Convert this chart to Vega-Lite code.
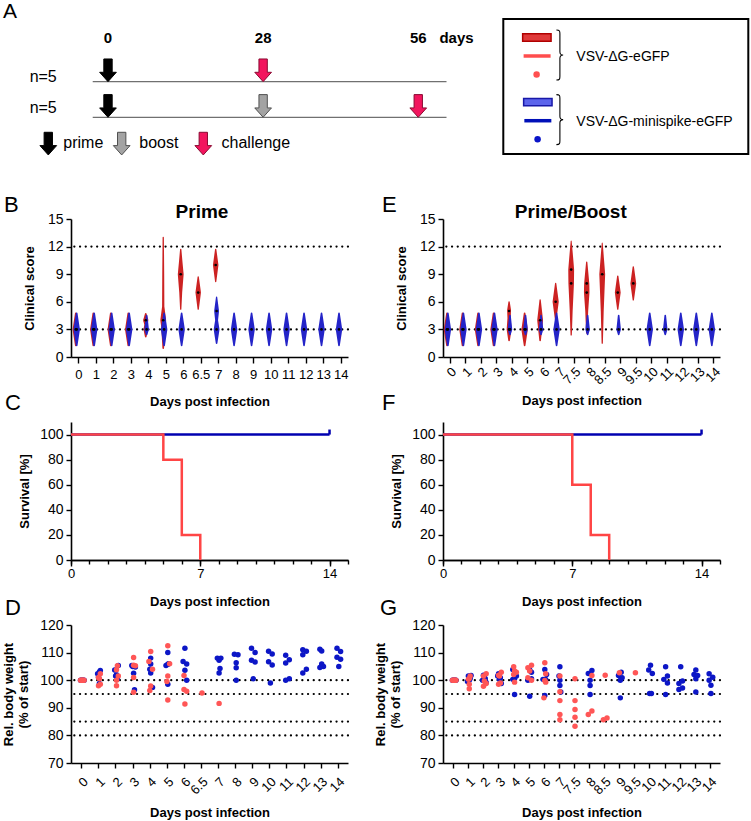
{
"$schema":"https://vega.github.io/schema/vega-lite/v6.json",
"background":"white",
"padding":{"left":2,"top":1,"right":0,"bottom":0},
"autosize":{"type":"pad"},
"config":{
 "font":"Liberation Sans",
 "view":{"stroke":null},
 "axis":{"domainColor":"#000","domainWidth":1.6,"tickColor":"#000","tickWidth":1.4,"tickSize":5,"labelColor":"#000","labelFont":"Liberation Sans","labelFontSize":13,"labelPadding":3,"titleFont":"Liberation Sans","titleFontSize":13,"titleFontWeight":"bold","titleColor":"#000","grid":false,"labelOverlap":false,"labelFlush":false},
 "axisY":{"labelFontSize":14},
 "title":{"font":"Liberation Sans","color":"#000"}
},
"resolve":{"scale":{"color":"independent","size":"independent","fill":"independent","stroke":"independent"}},
"datasets":{
"vB":[
{"d":"0","g":"r","s":1.25,"w":0.25},{"d":"0","g":"r","s":3,"w":1},{"d":"0","g":"r","s":4.75,"w":0.25},
{"d":"1","g":"r","s":1.25,"w":0.25},{"d":"1","g":"r","s":3,"w":1},{"d":"1","g":"r","s":4.75,"w":0.25},
{"d":"2","g":"r","s":1.25,"w":0.25},{"d":"2","g":"r","s":3,"w":1},{"d":"2","g":"r","s":4.75,"w":0.25},
{"d":"3","g":"r","s":1.25,"w":0.25},{"d":"3","g":"r","s":3,"w":1},{"d":"3","g":"r","s":4.75,"w":0.25},
{"d":"4","g":"r","s":2.2,"w":0.25},{"d":"4","g":"r","s":3,"w":0.7},{"d":"4","g":"r","s":3.5,"w":0.45},{"d":"4","g":"r","s":4,"w":0.8},{"d":"4","g":"r","s":4.7,"w":0.25},
{"d":"5","g":"r","s":0.95,"w":0.25},{"d":"5","g":"r","s":3.2,"w":0.6},{"d":"5","g":"r","s":4,"w":0.9},{"d":"5","g":"r","s":5.5,"w":0.35},{"d":"5","g":"r","s":9,"w":0.3},{"d":"5","g":"r","s":13,"w":0.2},
{"d":"6","g":"r","s":5.2,"w":0.2},{"d":"6","g":"r","s":7,"w":0.45},{"d":"6","g":"r","s":9,"w":0.9},{"d":"6","g":"r","s":10.3,"w":0.55},{"d":"6","g":"r","s":11.7,"w":0.2},
{"d":"6.5","g":"r","s":5.2,"w":0.2},{"d":"6.5","g":"r","s":7,"w":0.85},{"d":"6.5","g":"r","s":8.7,"w":0.2},
{"d":"7","g":"r","s":8.2,"w":0.2},{"d":"7","g":"r","s":10,"w":0.85},{"d":"7","g":"r","s":11.7,"w":0.2},
{"d":"0","g":"b","s":1.25,"w":0.25},{"d":"0","g":"b","s":3,"w":1},{"d":"0","g":"b","s":4.75,"w":0.25},
{"d":"1","g":"b","s":1.25,"w":0.25},{"d":"1","g":"b","s":3,"w":1},{"d":"1","g":"b","s":4.75,"w":0.25},
{"d":"2","g":"b","s":1.25,"w":0.25},{"d":"2","g":"b","s":3,"w":1},{"d":"2","g":"b","s":4.75,"w":0.25},
{"d":"3","g":"b","s":1.25,"w":0.25},{"d":"3","g":"b","s":3,"w":1},{"d":"3","g":"b","s":4.75,"w":0.25},
{"d":"4","g":"b","s":2.45,"w":0.25},{"d":"4","g":"b","s":3,"w":0.7},{"d":"4","g":"b","s":4.5,"w":0.25},
{"d":"5","g":"b","s":1.25,"w":0.25},{"d":"5","g":"b","s":3,"w":1},{"d":"5","g":"b","s":4.75,"w":0.25},
{"d":"6","g":"b","s":1.25,"w":0.25},{"d":"6","g":"b","s":3,"w":1},{"d":"6","g":"b","s":4.75,"w":0.25},
{"d":"7","g":"b","s":1.5,"w":0.25},{"d":"7","g":"b","s":3,"w":0.9},{"d":"7","g":"b","s":4,"w":0.45},{"d":"7","g":"b","s":5,"w":0.75},{"d":"7","g":"b","s":6.5,"w":0.2},
{"d":"8","g":"b","s":1.25,"w":0.25},{"d":"8","g":"b","s":3,"w":1},{"d":"8","g":"b","s":4.75,"w":0.25},
{"d":"9","g":"b","s":1.25,"w":0.25},{"d":"9","g":"b","s":3,"w":1},{"d":"9","g":"b","s":4.75,"w":0.25},
{"d":"10","g":"b","s":1.25,"w":0.25},{"d":"10","g":"b","s":3,"w":1},{"d":"10","g":"b","s":4.75,"w":0.25},
{"d":"11","g":"b","s":1.25,"w":0.25},{"d":"11","g":"b","s":3,"w":1},{"d":"11","g":"b","s":4.75,"w":0.25},
{"d":"12","g":"b","s":1.25,"w":0.25},{"d":"12","g":"b","s":3,"w":1},{"d":"12","g":"b","s":4.75,"w":0.25},
{"d":"13","g":"b","s":1.25,"w":0.25},{"d":"13","g":"b","s":3,"w":1},{"d":"13","g":"b","s":4.75,"w":0.25},
{"d":"14","g":"b","s":1.25,"w":0.25},{"d":"14","g":"b","s":3,"w":1},{"d":"14","g":"b","s":4.75,"w":0.25}
],
"mB":[
{"d":"0","g":"r","s":3},{"d":"1","g":"r","s":3},{"d":"2","g":"r","s":3},{"d":"3","g":"r","s":3},{"d":"4","g":"r","s":4},{"d":"5","g":"r","s":4},{"d":"6","g":"r","s":9},{"d":"6.5","g":"r","s":7},{"d":"7","g":"r","s":10},
{"d":"0","g":"b","s":3},{"d":"1","g":"b","s":3},{"d":"2","g":"b","s":3},{"d":"3","g":"b","s":3},{"d":"4","g":"b","s":3},{"d":"5","g":"b","s":3},{"d":"6","g":"b","s":3},{"d":"7","g":"b","s":3},{"d":"7","g":"b","s":5},{"d":"8","g":"b","s":3},{"d":"9","g":"b","s":3},{"d":"10","g":"b","s":3},{"d":"11","g":"b","s":3},{"d":"12","g":"b","s":3},{"d":"13","g":"b","s":3},{"d":"14","g":"b","s":3}
],
"vE":[
{"d":"0","g":"r","s":1.25,"w":0.25},{"d":"0","g":"r","s":3,"w":1},{"d":"0","g":"r","s":4.75,"w":0.25},
{"d":"1","g":"r","s":1.25,"w":0.25},{"d":"1","g":"r","s":3,"w":1},{"d":"1","g":"r","s":4.75,"w":0.25},
{"d":"2","g":"r","s":1.25,"w":0.25},{"d":"2","g":"r","s":3,"w":1},{"d":"2","g":"r","s":4.75,"w":0.25},
{"d":"3","g":"r","s":1.25,"w":0.25},{"d":"3","g":"r","s":3,"w":1},{"d":"3","g":"r","s":4.75,"w":0.25},
{"d":"4","g":"r","s":1.8,"w":0.25},{"d":"4","g":"r","s":3,"w":0.75},{"d":"4","g":"r","s":4.2,"w":0.5},{"d":"4","g":"r","s":5.1,"w":0.6},{"d":"4","g":"r","s":6,"w":0.2},
{"d":"5","g":"r","s":1.25,"w":0.25},{"d":"5","g":"r","s":3,"w":1},{"d":"5","g":"r","s":4.75,"w":0.25},
{"d":"6","g":"r","s":1.8,"w":0.25},{"d":"6","g":"r","s":4,"w":0.9},{"d":"6","g":"r","s":6.2,"w":0.2},
{"d":"7","g":"r","s":4,"w":0.2},{"d":"7","g":"r","s":6,"w":0.95},{"d":"7","g":"r","s":8,"w":0.2},
{"d":"7.5","g":"r","s":2.4,"w":0.2},{"d":"7.5","g":"r","s":5,"w":0.45},{"d":"7.5","g":"r","s":8,"w":0.85},{"d":"7.5","g":"r","s":9.5,"w":0.9},{"d":"7.5","g":"r","s":11,"w":0.55},{"d":"7.5","g":"r","s":12.6,"w":0.15},
{"d":"8","g":"r","s":2.6,"w":0.2},{"d":"8","g":"r","s":5,"w":0.45},{"d":"8","g":"r","s":7,"w":0.85},{"d":"8","g":"r","s":8,"w":0.8},{"d":"8","g":"r","s":10.3,"w":0.2},
{"d":"8.5","g":"r","s":1.5,"w":0.2},{"d":"8.5","g":"r","s":5,"w":0.45},{"d":"8.5","g":"r","s":9,"w":0.9},{"d":"8.5","g":"r","s":10.8,"w":0.5},{"d":"8.5","g":"r","s":12.4,"w":0.15},
{"d":"9","g":"r","s":5.2,"w":0.2},{"d":"9","g":"r","s":7,"w":0.9},{"d":"9","g":"r","s":8.8,"w":0.2},
{"d":"9.5","g":"r","s":6.2,"w":0.2},{"d":"9.5","g":"r","s":8,"w":0.9},{"d":"9.5","g":"r","s":9.8,"w":0.2},
{"d":"0","g":"b","s":1.25,"w":0.25},{"d":"0","g":"b","s":3,"w":1},{"d":"0","g":"b","s":4.75,"w":0.25},
{"d":"1","g":"b","s":1.25,"w":0.25},{"d":"1","g":"b","s":3,"w":1},{"d":"1","g":"b","s":4.75,"w":0.25},
{"d":"2","g":"b","s":1.25,"w":0.25},{"d":"2","g":"b","s":3,"w":1},{"d":"2","g":"b","s":4.75,"w":0.25},
{"d":"3","g":"b","s":1.25,"w":0.25},{"d":"3","g":"b","s":3,"w":1},{"d":"3","g":"b","s":4.75,"w":0.25},
{"d":"4","g":"b","s":2.45,"w":0.25},{"d":"4","g":"b","s":3,"w":0.7},{"d":"4","g":"b","s":4.5,"w":0.25},
{"d":"5","g":"b","s":2.45,"w":0.25},{"d":"5","g":"b","s":3,"w":0.7},{"d":"5","g":"b","s":4.5,"w":0.25},
{"d":"6","g":"b","s":2.45,"w":0.25},{"d":"6","g":"b","s":3,"w":0.7},{"d":"6","g":"b","s":4.5,"w":0.25},
{"d":"7","g":"b","s":1.25,"w":0.25},{"d":"7","g":"b","s":3,"w":1},{"d":"7","g":"b","s":4.75,"w":0.25},
{"d":"8","g":"b","s":2.45,"w":0.25},{"d":"8","g":"b","s":3,"w":0.7},{"d":"8","g":"b","s":4.5,"w":0.25},
{"d":"9","g":"b","s":2.45,"w":0.25},{"d":"9","g":"b","s":3,"w":0.7},{"d":"9","g":"b","s":4.5,"w":0.25},
{"d":"10","g":"b","s":1.25,"w":0.25},{"d":"10","g":"b","s":3,"w":1},{"d":"10","g":"b","s":4.75,"w":0.25},
{"d":"11","g":"b","s":2.45,"w":0.25},{"d":"11","g":"b","s":3,"w":0.7},{"d":"11","g":"b","s":4.5,"w":0.25},
{"d":"12","g":"b","s":1.25,"w":0.25},{"d":"12","g":"b","s":3,"w":1},{"d":"12","g":"b","s":4.75,"w":0.25},
{"d":"13","g":"b","s":1.25,"w":0.25},{"d":"13","g":"b","s":3,"w":1},{"d":"13","g":"b","s":4.75,"w":0.25},
{"d":"14","g":"b","s":1.25,"w":0.25},{"d":"14","g":"b","s":3,"w":1},{"d":"14","g":"b","s":4.75,"w":0.25}
],
"mE":[
{"d":"0","g":"r","s":3},{"d":"1","g":"r","s":3},{"d":"2","g":"r","s":3},{"d":"3","g":"r","s":3},{"d":"4","g":"r","s":3},{"d":"4","g":"r","s":5},{"d":"5","g":"r","s":3},{"d":"6","g":"r","s":4},{"d":"7","g":"r","s":6},{"d":"7.5","g":"r","s":8},{"d":"7.5","g":"r","s":9.5},{"d":"8","g":"r","s":7},{"d":"8","g":"r","s":8},{"d":"8.5","g":"r","s":9},{"d":"9","g":"r","s":7},{"d":"9.5","g":"r","s":8},
{"d":"0","g":"b","s":3},{"d":"1","g":"b","s":3},{"d":"2","g":"b","s":3},{"d":"3","g":"b","s":3},{"d":"4","g":"b","s":3},{"d":"5","g":"b","s":3},{"d":"6","g":"b","s":3},{"d":"7","g":"b","s":3},{"d":"8","g":"b","s":3},{"d":"9","g":"b","s":3},{"d":"10","g":"b","s":3},{"d":"11","g":"b","s":3},{"d":"12","g":"b","s":3},{"d":"13","g":"b","s":3},{"d":"14","g":"b","s":3}
],
"sC":[{"g":"b","t":0,"s":100},{"g":"b","t":14,"s":100},{"g":"r","t":0,"s":100},{"g":"r","t":5,"s":80},{"g":"r","t":6,"s":20},{"g":"r","t":7,"s":0}],
"sF":[{"g":"b","t":0,"s":100},{"g":"b","t":14,"s":100},{"g":"r","t":0,"s":100},{"g":"r","t":7,"s":60},{"g":"r","t":8,"s":20},{"g":"r","t":9,"s":0}],
"dD":[
{"d":"0","g":"b","v":100,"k":1},{"d":"0","g":"b","v":100,"k":2},{"d":"0","g":"b","v":100,"k":3},{"d":"0","g":"b","v":100,"k":4},{"d":"0","g":"b","v":100,"k":5},
{"d":"1","g":"b","v":103,"k":3},{"d":"1","g":"b","v":103.5,"k":4},{"d":"1","g":"b","v":101.2,"k":2},{"d":"1","g":"b","v":98.8,"k":3},{"d":"1","g":"b","v":102.3,"k":1},
{"d":"2","g":"b","v":103.7,"k":1},{"d":"2","g":"b","v":102,"k":3},{"d":"2","g":"b","v":100.5,"k":4},{"d":"2","g":"b","v":105.3,"k":5},{"d":"2","g":"b","v":101.5,"k":2},
{"d":"3","g":"b","v":105.3,"k":1},{"d":"3","g":"b","v":102.5,"k":3},{"d":"3","g":"b","v":96.5,"k":4},{"d":"3","g":"b","v":104.8,"k":5},{"d":"3","g":"b","v":105,"k":2},
{"d":"4","g":"b","v":104,"k":2},{"d":"4","g":"b","v":108,"k":3},{"d":"4","g":"b","v":105.9,"k":3},{"d":"4","g":"b","v":102.6,"k":3},{"d":"4","g":"b","v":97.4,"k":5},
{"d":"5","g":"b","v":105.3,"k":1},{"d":"5","g":"b","v":110,"k":3},{"d":"5","g":"b","v":105.8,"k":3},{"d":"5","g":"b","v":98.5,"k":3},{"d":"5","g":"b","v":106,"k":4},
{"d":"6","g":"b","v":111.6,"k":3},{"d":"6","g":"b","v":106.8,"k":1},{"d":"6","g":"b","v":103.6,"k":3},{"d":"6","g":"b","v":105.9,"k":5},{"d":"6","g":"b","v":100,"k":5},
{"d":"7","g":"b","v":108,"k":1},{"d":"7","g":"b","v":107.2,"k":3},{"d":"7","g":"b","v":108,"k":5},{"d":"7","g":"b","v":102.6,"k":3},{"d":"7","g":"b","v":104.2,"k":4},
{"d":"8","g":"b","v":109.4,"k":1},{"d":"8","g":"b","v":106.3,"k":3},{"d":"8","g":"b","v":104.5,"k":3},{"d":"8","g":"b","v":109.2,"k":5},{"d":"8","g":"b","v":100,"k":3},
{"d":"9","g":"b","v":111.6,"k":1},{"d":"9","g":"b","v":107.2,"k":1},{"d":"9","g":"b","v":110,"k":5},{"d":"9","g":"b","v":106.6,"k":5},{"d":"9","g":"b","v":100.5,"k":3},
{"d":"10","g":"b","v":110.5,"k":1},{"d":"10","g":"b","v":106.7,"k":1},{"d":"10","g":"b","v":109.5,"k":5},{"d":"10","g":"b","v":105.5,"k":5},{"d":"10","g":"b","v":99,"k":3},
{"d":"11","g":"b","v":109,"k":1},{"d":"11","g":"b","v":106.2,"k":1},{"d":"11","g":"b","v":107.4,"k":5},{"d":"11","g":"b","v":100.5,"k":5},{"d":"11","g":"b","v":100,"k":1},
{"d":"12","g":"b","v":111,"k":1},{"d":"12","g":"b","v":109.2,"k":1},{"d":"12","g":"b","v":110.5,"k":5},{"d":"12","g":"b","v":104,"k":5},{"d":"12","g":"b","v":102.6,"k":1},
{"d":"13","g":"b","v":111.2,"k":1},{"d":"13","g":"b","v":110.6,"k":3},{"d":"13","g":"b","v":105.9,"k":3},{"d":"13","g":"b","v":105,"k":5},{"d":"13","g":"b","v":104.6,"k":1},
{"d":"14","g":"b","v":111.6,"k":1},{"d":"14","g":"b","v":108.3,"k":1},{"d":"14","g":"b","v":110.4,"k":5},{"d":"14","g":"b","v":107.6,"k":5},{"d":"14","g":"b","v":105,"k":3},
{"d":"0","g":"r","v":100,"k":1},{"d":"0","g":"r","v":100,"k":2},{"d":"0","g":"r","v":100,"k":3},{"d":"0","g":"r","v":100,"k":4},{"d":"0","g":"r","v":100,"k":5},
{"d":"1","g":"r","v":101,"k":2},{"d":"1","g":"r","v":98,"k":2},{"d":"1","g":"r","v":102.3,"k":4},{"d":"1","g":"r","v":98.5,"k":4},{"d":"1","g":"r","v":100.5,"k":3},
{"d":"2","g":"r","v":98,"k":3},{"d":"2","g":"r","v":100,"k":3},{"d":"2","g":"r","v":103.8,"k":3},{"d":"2","g":"r","v":105.2,"k":4},{"d":"2","g":"r","v":101.5,"k":5},
{"d":"3","g":"r","v":108.2,"k":3},{"d":"3","g":"r","v":105.4,"k":3},{"d":"3","g":"r","v":101,"k":3},{"d":"3","g":"r","v":95.6,"k":3},{"d":"3","g":"r","v":105.2,"k":5},
{"d":"4","g":"r","v":110.4,"k":3},{"d":"4","g":"r","v":106.8,"k":1},{"d":"4","g":"r","v":96.3,"k":2},{"d":"4","g":"r","v":97.9,"k":3},{"d":"4","g":"r","v":104,"k":5},
{"d":"5","g":"r","v":112.5,"k":3},{"d":"5","g":"r","v":106,"k":5},{"d":"5","g":"r","v":101.5,"k":3},{"d":"5","g":"r","v":99.5,"k":2},{"d":"5","g":"r","v":92.8,"k":3},
{"d":"6","g":"r","v":101.7,"k":2},{"d":"6","g":"r","v":96.6,"k":2},{"d":"6","g":"r","v":91.4,"k":3},{"d":"6","g":"r","v":96,"k":5},
{"d":"6.5","g":"r","v":95.4,"k":3},
{"d":"7","g":"r","v":91.6,"k":3}
],
"dG":[
{"d":"0","g":"b","v":100,"k":1},{"d":"0","g":"b","v":100,"k":2},{"d":"0","g":"b","v":100,"k":3},{"d":"0","g":"b","v":100,"k":4},{"d":"0","g":"b","v":100,"k":5},
{"d":"1","g":"b","v":101.5,"k":2},{"d":"1","g":"b","v":101.7,"k":5},{"d":"1","g":"b","v":100,"k":3},{"d":"1","g":"b","v":100.6,"k":4},{"d":"1","g":"b","v":99.5,"k":1},
{"d":"2","g":"b","v":101.8,"k":2},{"d":"2","g":"b","v":101.1,"k":3},{"d":"2","g":"b","v":99.2,"k":5},{"d":"2","g":"b","v":100,"k":1},{"d":"2","g":"b","v":100.5,"k":4},
{"d":"3","g":"b","v":102.3,"k":2},{"d":"3","g":"b","v":100.9,"k":4},{"d":"3","g":"b","v":98.8,"k":5},{"d":"3","g":"b","v":101.5,"k":1},{"d":"3","g":"b","v":100.3,"k":3},
{"d":"4","g":"b","v":103.9,"k":1},{"d":"4","g":"b","v":100.6,"k":3},{"d":"4","g":"b","v":101.5,"k":5},{"d":"4","g":"b","v":94.8,"k":3},{"d":"4","g":"b","v":100.3,"k":1},
{"d":"5","g":"b","v":103.7,"k":3},{"d":"5","g":"b","v":102.9,"k":5},{"d":"5","g":"b","v":94.2,"k":3},{"d":"5","g":"b","v":100,"k":1},{"d":"5","g":"b","v":100.5,"k":5},
{"d":"6","g":"b","v":103.9,"k":3},{"d":"6","g":"b","v":100.3,"k":1},{"d":"6","g":"b","v":102.1,"k":5},{"d":"6","g":"b","v":94.5,"k":3},{"d":"6","g":"b","v":100.3,"k":4},
{"d":"7","g":"b","v":104.9,"k":3},{"d":"7","g":"b","v":101.5,"k":2},{"d":"7","g":"b","v":100,"k":3},{"d":"7","g":"b","v":98.1,"k":3},{"d":"7","g":"b","v":95.7,"k":4},
{"d":"8","g":"b","v":102.4,"k":1},{"d":"8","g":"b","v":103.5,"k":5},{"d":"8","g":"b","v":100,"k":3},{"d":"8","g":"b","v":98.1,"k":3},{"d":"8","g":"b","v":94.8,"k":3},
{"d":"9","g":"b","v":101.7,"k":1},{"d":"9","g":"b","v":102.9,"k":4},{"d":"9","g":"b","v":100.9,"k":5},{"d":"9","g":"b","v":100,"k":3},{"d":"9","g":"b","v":93.6,"k":3},
{"d":"10","g":"b","v":103.7,"k":1},{"d":"10","g":"b","v":105.4,"k":3},{"d":"10","g":"b","v":102.4,"k":5},{"d":"10","g":"b","v":95.2,"k":2},{"d":"10","g":"b","v":95.2,"k":4},
{"d":"11","g":"b","v":104.9,"k":3},{"d":"11","g":"b","v":100.3,"k":1},{"d":"11","g":"b","v":101.5,"k":5},{"d":"11","g":"b","v":99,"k":5},{"d":"11","g":"b","v":94.8,"k":3},
{"d":"12","g":"b","v":104.9,"k":3},{"d":"12","g":"b","v":98.8,"k":1},{"d":"12","g":"b","v":99.7,"k":5},{"d":"12","g":"b","v":96.6,"k":1},{"d":"12","g":"b","v":97.2,"k":5},
{"d":"13","g":"b","v":102.1,"k":1},{"d":"13","g":"b","v":103.7,"k":3},{"d":"13","g":"b","v":101.7,"k":5},{"d":"13","g":"b","v":100.5,"k":3},{"d":"13","g":"b","v":95.7,"k":3},
{"d":"14","g":"b","v":102.3,"k":1},{"d":"14","g":"b","v":101.1,"k":5},{"d":"14","g":"b","v":100,"k":1},{"d":"14","g":"b","v":98.2,"k":3},{"d":"14","g":"b","v":95.2,"k":3},
{"d":"0","g":"r","v":100,"k":1},{"d":"0","g":"r","v":100,"k":2},{"d":"0","g":"r","v":100,"k":3},{"d":"0","g":"r","v":100,"k":4},{"d":"0","g":"r","v":100,"k":5},
{"d":"1","g":"r","v":100.6,"k":3},{"d":"1","g":"r","v":96.9,"k":3},{"d":"1","g":"r","v":98.5,"k":3},{"d":"1","g":"r","v":101.5,"k":4},{"d":"1","g":"r","v":100.3,"k":2},
{"d":"2","g":"r","v":97.8,"k":2},{"d":"2","g":"r","v":99.7,"k":3},{"d":"2","g":"r","v":98.8,"k":5},{"d":"2","g":"r","v":102.3,"k":5},{"d":"2","g":"r","v":101.5,"k":2},
{"d":"3","g":"r","v":98.5,"k":2},{"d":"3","g":"r","v":101.5,"k":3},{"d":"3","g":"r","v":102.9,"k":5},{"d":"3","g":"r","v":101.8,"k":2},{"d":"3","g":"r","v":99,"k":4},
{"d":"4","g":"r","v":104.9,"k":2},{"d":"4","g":"r","v":103.3,"k":3},{"d":"4","g":"r","v":102.9,"k":5},{"d":"4","g":"r","v":102.1,"k":2},{"d":"4","g":"r","v":99.3,"k":3},
{"d":"5","g":"r","v":104.5,"k":1},{"d":"5","g":"r","v":105.4,"k":5},{"d":"5","g":"r","v":103.3,"k":3},{"d":"5","g":"r","v":100.9,"k":1},{"d":"5","g":"r","v":100,"k":5},
{"d":"6","g":"r","v":106.3,"k":3},{"d":"6","g":"r","v":102.3,"k":4},{"d":"6","g":"r","v":99.9,"k":3},{"d":"6","g":"r","v":99.3,"k":4},{"d":"6","g":"r","v":93.6,"k":2},
{"d":"7","g":"r","v":101.5,"k":3},{"d":"7","g":"r","v":95.8,"k":3},{"d":"7","g":"r","v":92.6,"k":3},{"d":"7","g":"r","v":87.6,"k":3},{"d":"7","g":"r","v":85.7,"k":3},
{"d":"7.5","g":"r","v":100.5,"k":3},{"d":"7.5","g":"r","v":92.6,"k":3},{"d":"7.5","g":"r","v":89.4,"k":3},{"d":"7.5","g":"r","v":86.6,"k":3},{"d":"7.5","g":"r","v":83.3,"k":3},
{"d":"8","g":"r","v":87.6,"k":1},{"d":"8","g":"r","v":88.8,"k":5},{"d":"8","g":"r","v":101.7,"k":5},
{"d":"8.5","g":"r","v":85.7,"k":1},{"d":"8.5","g":"r","v":86.3,"k":5},{"d":"8.5","g":"r","v":101.8,"k":3},
{"d":"9","g":"r","v":102.7,"k":2},
{"d":"9.5","g":"r","v":102.7,"k":3}
]
},
"columns":2,
"spacing":{"row":65,"column":95},
"bounds":"flush",
"concat":[
 {"width":277,"height":135,
  "title":{"text":"A","anchor":"start","frame":"group","dx":-68,"offset":-20,"fontSize":21,"fontWeight":"normal","baseline":"alphabetic"},
  "layer":[
   {"data":{"values":[{"lane":4.64,"a":-2.76,"b":61.1},{"lane":7.28,"a":-2.76,"b":61.1}]},
    "mark":{"type":"rule","color":"#707070","strokeWidth":1.3},
    "encoding":{"x":{"field":"a","type":"quantitative","scale":{"domain":[-6.68,43.32],"nice":false,"zero":false},"axis":null},"x2":{"field":"b"},"y":{"field":"lane","type":"quantitative","scale":{"domain":[0,10],"reverse":true,"nice":false,"zero":false},"axis":null}}},
   {"data":{"values":[{"day":0,"lane":4.64,"kind":"prime"},{"day":28,"lane":4.64,"kind":"challenge"},{"day":0,"lane":7.28,"kind":"prime"},{"day":28,"lane":7.28,"kind":"boost"},{"day":56,"lane":7.28,"kind":"challenge"},{"day":-10.78,"lane":10.07,"kind":"prime"},{"day":2.47,"lane":10.07,"kind":"boost"},{"day":17.2,"lane":10.07,"kind":"challenge"}]},
    "mark":{"type":"point","shape":"M-0.38,-2.06L0.38,-2.06L0.38,-0.85L0.76,-0.85L0,0L-0.76,-0.85L-0.38,-0.85Z","size":484,"filled":true,"opacity":1,"strokeWidth":1},
    "encoding":{"x":{"field":"day","type":"quantitative","scale":{"domain":[-6.68,43.32],"nice":false,"zero":false},"axis":null},"y":{"field":"lane","type":"quantitative","scale":{"domain":[0,10],"reverse":true,"nice":false,"zero":false},"axis":null},
     "fill":{"field":"kind","type":"nominal","scale":{"domain":["prime","boost","challenge"],"range":["#000000","#a3a3a3","#f2155e"]},"legend":null},
     "stroke":{"field":"kind","type":"nominal","scale":{"domain":["prime","boost","challenge"],"range":["#000000","#505050","#8a0a32"]},"legend":null}}},
   {"data":{"values":[{"day":0,"lane":1.43,"t":"0"},{"day":28,"lane":1.43,"t":"28"},{"day":56,"lane":1.43,"t":"56"},{"day":62.9,"lane":1.43,"t":"days"}]},
    "mark":{"type":"text","fontSize":15,"fontWeight":"bold","align":"center","baseline":"middle","color":"#000"},
    "encoding":{"x":{"field":"day","type":"quantitative","scale":{"domain":[-6.68,43.32],"nice":false,"zero":false},"axis":null},"y":{"field":"lane","type":"quantitative","scale":{"domain":[0,10],"reverse":true,"nice":false,"zero":false},"axis":null},"text":{"field":"t"}}},
   {"data":{"values":[{"day":-11.7,"lane":4.27,"t":"n=5"},{"day":-11.7,"lane":6.61,"t":"n=5"}]},
    "mark":{"type":"text","fontSize":16,"align":"center","baseline":"middle","color":"#000"},
    "encoding":{"x":{"field":"day","type":"quantitative","scale":{"domain":[-6.68,43.32],"nice":false,"zero":false},"axis":null},"y":{"field":"lane","type":"quantitative","scale":{"domain":[0,10],"reverse":true,"nice":false,"zero":false},"axis":null},"text":{"field":"t"}}},
   {"data":{"values":[{"day":-8.07,"lane":9.58,"t":"prime"},{"day":5.65,"lane":9.58,"t":"boost"},{"day":20.5,"lane":9.58,"t":"challenge"}]},
    "mark":{"type":"text","fontSize":16,"align":"left","baseline":"alphabetic","color":"#000"},
    "encoding":{"x":{"field":"day","type":"quantitative","scale":{"domain":[-6.68,43.32],"nice":false,"zero":false},"axis":null},"y":{"field":"lane","type":"quantitative","scale":{"domain":[0,10],"reverse":true,"nice":false,"zero":false},"axis":null},"text":{"field":"t"}}}
  ]},
 {"width":305.3,"height":135,
  "layer":[
   {"data":{"values":[{"c":0,"c2":10,"r":0,"r2":7.3}]},"mark":{"type":"rect","fill":null,"fillOpacity":0,"stroke":"#000","strokeWidth":2},
    "encoding":{"x":{"field":"c","type":"quantitative","scale":{"domain":[-2.461,10],"nice":false,"zero":false},"axis":null},"x2":{"field":"c2"},"y":{"field":"r","type":"quantitative","scale":{"domain":[0,7.3],"reverse":true,"nice":false,"zero":false},"axis":null},"y2":{"field":"r2"}}},
   {"data":{"values":[{"c":1.37,"r":1}]},"mark":{"type":"point","shape":"M-1,-0.257H1V0.257H-1Z","size":807,"filled":true,"opacity":1,"fill":"#e03a3a","stroke":"#b00000","strokeWidth":1.5},
    "encoding":{"x":{"field":"c","type":"quantitative","scale":{"domain":[-2.461,10],"nice":false,"zero":false},"axis":null},"y":{"field":"r","type":"quantitative","scale":{"domain":[0,7.3],"reverse":true,"nice":false,"zero":false},"axis":null}}},
   {"data":{"values":[{"c":1.41,"r":4.5}]},"mark":{"type":"point","shape":"M-1,-0.257H1V0.257H-1Z","size":807,"filled":true,"opacity":1,"fill":"#5c64ec","stroke":"#1818a8","strokeWidth":1.5},
    "encoding":{"x":{"field":"c","type":"quantitative","scale":{"domain":[-2.461,10],"nice":false,"zero":false},"axis":null},"y":{"field":"r","type":"quantitative","scale":{"domain":[0,7.3],"reverse":true,"nice":false,"zero":false},"axis":null}}},
   {"data":{"values":[{"c":1.38,"r":2}]},"mark":{"type":"point","shape":"M-1,0H1","size":729,"filled":false,"opacity":1,"stroke":"#ff4d4d","strokeWidth":3.5},
    "encoding":{"x":{"field":"c","type":"quantitative","scale":{"domain":[-2.461,10],"nice":false,"zero":false},"axis":null},"y":{"field":"r","type":"quantitative","scale":{"domain":[0,7.3],"reverse":true,"nice":false,"zero":false},"axis":null}}},
   {"data":{"values":[{"c":1.41,"r":5.5}]},"mark":{"type":"point","shape":"M-1,0H1","size":729,"filled":false,"opacity":1,"stroke":"#0010b8","strokeWidth":3.5},
    "encoding":{"x":{"field":"c","type":"quantitative","scale":{"domain":[-2.461,10],"nice":false,"zero":false},"axis":null},"y":{"field":"r","type":"quantitative","scale":{"domain":[0,7.3],"reverse":true,"nice":false,"zero":false},"axis":null}}},
   {"data":{"values":[{"c":1.36,"r":3}]},"mark":{"type":"circle","size":42,"opacity":1,"color":"#ff5050"},
    "encoding":{"x":{"field":"c","type":"quantitative","scale":{"domain":[-2.461,10],"nice":false,"zero":false},"axis":null},"y":{"field":"r","type":"quantitative","scale":{"domain":[0,7.3],"reverse":true,"nice":false,"zero":false},"axis":null}}},
   {"data":{"values":[{"c":1.4,"r":6.5}]},"mark":{"type":"circle","size":42,"opacity":1,"color":"#0a14c8"},
    "encoding":{"x":{"field":"c","type":"quantitative","scale":{"domain":[-2.461,10],"nice":false,"zero":false},"axis":null},"y":{"field":"r","type":"quantitative","scale":{"domain":[0,7.3],"reverse":true,"nice":false,"zero":false},"axis":null}}},
   {"data":{"values":[{"c":2.29,"r":1.95},{"c":2.29,"r":5.44}]},"mark":{"type":"point","shape":"M-0.12,-1C0.02,-1 0.02,-0.95 0.02,-0.85L0.02,-0.13C0.02,-0.04 0.06,0 0.15,0C0.06,0 0.02,0.04 0.02,0.13L0.02,0.85C0.02,0.95 0.02,1 -0.12,1","size":2500,"filled":false,"opacity":1,"stroke":"#000","strokeWidth":1.1},
    "encoding":{"x":{"field":"c","type":"quantitative","scale":{"domain":[-2.461,10],"nice":false,"zero":false},"axis":null},"y":{"field":"r","type":"quantitative","scale":{"domain":[0,7.3],"reverse":true,"nice":false,"zero":false},"axis":null}}},
   {"data":{"values":[{"c":2.98,"r":2.07,"t":"VSV-ΔG-eGFP"},{"c":2.98,"r":5.55,"t":"VSV-ΔG-minispike-eGFP"}]},"mark":{"type":"text","fontSize":14,"align":"left","baseline":"middle","color":"#000"},
    "encoding":{"x":{"field":"c","type":"quantitative","scale":{"domain":[-2.461,10],"nice":false,"zero":false},"axis":null},"y":{"field":"r","type":"quantitative","scale":{"domain":[0,7.3],"reverse":true,"nice":false,"zero":false},"axis":null},"text":{"field":"t"}}}
  ]},
 {"width":277,"height":138,
  "title":{"text":"B","anchor":"start","frame":"group","dx":-67,"offset":-31,"fontSize":22,"fontWeight":"normal","baseline":"alphabetic"},
  "resolve":{"axis":{"x":"independent"}},
  "layer":[
   {"data":{"values":[{"y":3},{"y":12}]},"mark":{"type":"rule","strokeDash":[0.1,5.6],"strokeWidth":2.2,"strokeCap":"round","color":"#000"},
    "encoding":{"y":{"field":"y","type":"quantitative","scale":{"domain":[0,15],"nice":false,"zero":false},"axis":{"values":[0,3,6,9,12,15],"title":"Clinical score","titlePadding":11}}}},
   {"data":{"name":"vB"},"mark":{"type":"trail"},
    "encoding":{
     "x":{"field":"d","type":"ordinal","scale":{"type":"point","domain":["0","1","2","3","4","5","6","6.5","7","8","9","10","11","12","13","14"],"padding":0.42},"axis":{"orient":"bottom","title":"Days post infection","labelAngle":0,"tickSize":6,"labelPadding":5,"titlePadding":14}},
     "xOffset":{"field":"g","type":"nominal","scale":{"type":"point","domain":["r","b"],"range":[-3,3.3]}},
     "y":{"field":"s","type":"quantitative","scale":{"domain":[0,15],"nice":false,"zero":false},"axis":{"values":[0,3,6,9,12,15],"title":"Clinical score","titlePadding":11}},
     "size":{"field":"w","type":"quantitative","scale":{"domain":[0,1],"range":[0,6.5]},"legend":null},
     "color":{"field":"g","type":"nominal","scale":{"domain":["r","b"],"range":["#cc2222","#2424c8"]},"legend":null},
     "detail":{"field":"d"},
     "order":{"field":"s","type":"quantitative"}}},
   {"data":{"name":"mB"},"mark":{"type":"point","shape":"circle","filled":true,"size":7,"color":"#000","opacity":1},
    "encoding":{
     "x":{"field":"d","type":"ordinal","scale":{"type":"point","domain":["0","1","2","3","4","5","6","6.5","7","8","9","10","11","12","13","14"],"padding":0.42},"axis":{"orient":"top","domain":false,"ticks":false,"labels":false,"title":"Prime","titleFontSize":19,"titleX":130.5,"titleY":-1.5,"titleBaseline":"alphabetic","titleAlign":"center"}},
     "xOffset":{"field":"g","type":"nominal","scale":{"type":"point","domain":["r","b"],"range":[-3,3.3]}},
     "y":{"field":"s","type":"quantitative","scale":{"domain":[0,15],"nice":false,"zero":false},"axis":{"values":[0,3,6,9,12,15],"title":"Clinical score","titlePadding":11}}}}
  ]},
 {"width":277,"height":138,
  "title":{"text":"E","anchor":"start","frame":"group","dx":-61,"offset":-31,"fontSize":22,"fontWeight":"normal","baseline":"alphabetic"},
  "resolve":{"axis":{"x":"independent"}},
  "layer":[
   {"data":{"values":[{"y":3},{"y":12}]},"mark":{"type":"rule","strokeDash":[0.1,5.6],"strokeWidth":2.2,"strokeCap":"round","color":"#000"},
    "encoding":{"y":{"field":"y","type":"quantitative","scale":{"domain":[0,15],"nice":false,"zero":false},"axis":{"values":[0,3,6,9,12,15],"title":"Clinical score","titlePadding":11}}}},
   {"data":{"name":"vE"},"mark":{"type":"trail"},
    "encoding":{
     "x":{"field":"d","type":"ordinal","scale":{"type":"point","domain":["0","1","2","3","4","5","6","7","7.5","8","8.5","9","9.5","10","11","12","13","14"],"padding":0.42},"axis":{"orient":"bottom","title":"Days post infection","labelAngle":-45,"tickSize":6,"labelPadding":2,"titlePadding":8}},
     "xOffset":{"field":"g","type":"nominal","scale":{"type":"point","domain":["r","b"],"range":[-3,3.3]}},
     "y":{"field":"s","type":"quantitative","scale":{"domain":[0,15],"nice":false,"zero":false},"axis":{"values":[0,3,6,9,12,15],"title":"Clinical score","titlePadding":11}},
     "size":{"field":"w","type":"quantitative","scale":{"domain":[0,1],"range":[0,6.5]},"legend":null},
     "color":{"field":"g","type":"nominal","scale":{"domain":["r","b"],"range":["#cc2222","#2424c8"]},"legend":null},
     "detail":{"field":"d"},
     "order":{"field":"s","type":"quantitative"}}},
   {"data":{"name":"mE"},"mark":{"type":"point","shape":"circle","filled":true,"size":7,"color":"#000","opacity":1},
    "encoding":{
     "x":{"field":"d","type":"ordinal","scale":{"type":"point","domain":["0","1","2","3","4","5","6","7","7.5","8","8.5","9","9.5","10","11","12","13","14"],"padding":0.42},"axis":{"orient":"top","domain":false,"ticks":false,"labels":false,"title":"Prime/Boost","titleFontSize":19,"titleX":127.3,"titleY":-1.5,"titleBaseline":"alphabetic","titleAlign":"center"}},
     "xOffset":{"field":"g","type":"nominal","scale":{"type":"point","domain":["r","b"],"range":[-3,3.3]}},
     "y":{"field":"s","type":"quantitative","scale":{"domain":[0,15],"nice":false,"zero":false},"axis":{"values":[0,3,6,9,12,15],"title":"Clinical score","titlePadding":11}}}}
  ]},
 {"width":277,"height":138,
  "title":{"text":"C","anchor":"start","frame":"group","dx":-66,"offset":-10,"fontSize":22,"fontWeight":"normal","baseline":"alphabetic"},
  "resolve":{"axis":{"x":"independent"}},
  "layer":[
   {"data":{"name":"sC"},"transform":[{"filter":"datum.g == 'b'"}],"mark":{"type":"line","interpolate":"step-after","color":"#0000b0","strokeWidth":2.5},
    "encoding":{"x":{"field":"t","type":"quantitative","scale":{"domain":[0,15],"nice":false,"zero":false},"axis":{"orient":"bottom","values":[0,1,2,3,4,5,6,7,8,9,10,11,12,13,14,15],"labels":false,"tickSize":4,"title":null}},
     "y":{"field":"s","type":"quantitative","scale":{"domain":[0,110],"nice":false,"zero":false},"axis":{"values":[0,20,40,60,80,100],"title":"Survival [%]","titlePadding":8}}}},
   {"data":{"values":[{"t":14,"s":100,"s2":104}]},"mark":{"type":"rule","color":"#0000b0","strokeWidth":2.5},
    "encoding":{"x":{"field":"t","type":"quantitative","scale":{"domain":[0,15],"nice":false,"zero":false},"axis":null},"y":{"field":"s","type":"quantitative","scale":{"domain":[0,110],"nice":false,"zero":false},"axis":{"values":[0,20,40,60,80,100],"title":"Survival [%]","titlePadding":8}},"y2":{"field":"s2"}}},
   {"data":{"name":"sC"},"transform":[{"filter":"datum.g == 'r'"}],"mark":{"type":"line","interpolate":"step-after","color":"#ff4545","strokeWidth":2.5},
    "encoding":{"x":{"field":"t","type":"quantitative","scale":{"domain":[0,15],"nice":false,"zero":false},"axis":{"orient":"bottom","values":[0,7,14],"tickSize":6,"labelPadding":1,"title":"Days post infection","titlePadding":15}},
     "y":{"field":"s","type":"quantitative","scale":{"domain":[0,110],"nice":false,"zero":false},"axis":{"values":[0,20,40,60,80,100],"title":"Survival [%]","titlePadding":8}}}}
  ]},
 {"width":277,"height":138,
  "title":{"text":"F","anchor":"start","frame":"group","dx":-61,"offset":-10,"fontSize":22,"fontWeight":"normal","baseline":"alphabetic"},
  "resolve":{"axis":{"x":"independent"}},
  "layer":[
   {"data":{"name":"sF"},"transform":[{"filter":"datum.g == 'b'"}],"mark":{"type":"line","interpolate":"step-after","color":"#0000b0","strokeWidth":2.5},
    "encoding":{"x":{"field":"t","type":"quantitative","scale":{"domain":[0,15],"nice":false,"zero":false},"axis":{"orient":"bottom","values":[0,1,2,3,4,5,6,7,8,9,10,11,12,13,14,15],"labels":false,"tickSize":4,"title":null}},
     "y":{"field":"s","type":"quantitative","scale":{"domain":[0,110],"nice":false,"zero":false},"axis":{"values":[0,20,40,60,80,100],"title":"Survival [%]","titlePadding":8}}}},
   {"data":{"values":[{"t":14,"s":100,"s2":104}]},"mark":{"type":"rule","color":"#0000b0","strokeWidth":2.5},
    "encoding":{"x":{"field":"t","type":"quantitative","scale":{"domain":[0,15],"nice":false,"zero":false},"axis":null},"y":{"field":"s","type":"quantitative","scale":{"domain":[0,110],"nice":false,"zero":false},"axis":{"values":[0,20,40,60,80,100],"title":"Survival [%]","titlePadding":8}},"y2":{"field":"s2"}}},
   {"data":{"name":"sF"},"transform":[{"filter":"datum.g == 'r'"}],"mark":{"type":"line","interpolate":"step-after","color":"#ff4545","strokeWidth":2.5},
    "encoding":{"x":{"field":"t","type":"quantitative","scale":{"domain":[0,15],"nice":false,"zero":false},"axis":{"orient":"bottom","values":[0,7,14],"tickSize":6,"labelPadding":1,"title":"Days post infection","titlePadding":15}},
     "y":{"field":"s","type":"quantitative","scale":{"domain":[0,110],"nice":false,"zero":false},"axis":{"values":[0,20,40,60,80,100],"title":"Survival [%]","titlePadding":8}}}}
  ]},
 {"width":277,"height":138,
  "title":{"text":"D","anchor":"start","frame":"group","dx":-66,"offset":-19,"fontSize":22,"fontWeight":"normal","baseline":"alphabetic"},
  "layer":[
   {"data":{"values":[{"y":100},{"y":95},{"y":85},{"y":80}]},"mark":{"type":"rule","strokeDash":[0.1,5.6],"strokeWidth":2.2,"strokeCap":"round","color":"#000"},
    "encoding":{"y":{"field":"y","type":"quantitative","scale":{"domain":[70,120],"nice":false,"zero":false},"axis":{"values":[70,80,90,100,110,120],"title":["Rel. body weight","(% of start)"],"titlePadding":9}}}},
   {"data":{"name":"dD"},"mark":{"type":"circle","size":30,"opacity":1},
    "encoding":{
     "x":{"field":"d","type":"ordinal","scale":{"type":"point","domain":["0","1","2","3","4","5","6","6.5","7","8","9","10","11","12","13","14"],"padding":0.6},"axis":{"title":"Days post infection","labelAngle":-45,"tickSize":5,"labelPadding":7,"titlePadding":10}},
     "xOffset":{"field":"k","type":"ordinal","scale":{"type":"point","domain":[1,2,3,4,5],"range":[-5.5,5.5]}},
     "y":{"field":"v","type":"quantitative","scale":{"domain":[70,120],"nice":false,"zero":false},"axis":{"values":[70,80,90,100,110,120],"title":["Rel. body weight","(% of start)"],"titlePadding":9}},
     "color":{"field":"g","type":"nominal","scale":{"domain":["r","b"],"range":["#ff5656","#0c16c6"]},"legend":null}}}
  ]},
 {"width":277,"height":138,
  "title":{"text":"G","anchor":"start","frame":"group","dx":-63,"offset":-19,"fontSize":22,"fontWeight":"normal","baseline":"alphabetic"},
  "layer":[
   {"data":{"values":[{"y":100},{"y":95},{"y":85},{"y":80}]},"mark":{"type":"rule","strokeDash":[0.1,5.6],"strokeWidth":2.2,"strokeCap":"round","color":"#000"},
    "encoding":{"y":{"field":"y","type":"quantitative","scale":{"domain":[70,120],"nice":false,"zero":false},"axis":{"values":[70,80,90,100,110,120],"title":["Rel. body weight","(% of start)"],"titlePadding":9}}}},
   {"data":{"name":"dG"},"mark":{"type":"circle","size":30,"opacity":1},
    "encoding":{
     "x":{"field":"d","type":"ordinal","scale":{"type":"point","domain":["0","1","2","3","4","5","6","7","7.5","8","8.5","9","9.5","10","11","12","13","14"],"padding":0.67},"axis":{"title":"Days post infection","labelAngle":-45,"tickSize":5,"labelPadding":7,"titlePadding":10}},
     "xOffset":{"field":"k","type":"ordinal","scale":{"type":"point","domain":[1,2,3,4,5],"range":[-5.5,5.5]}},
     "y":{"field":"v","type":"quantitative","scale":{"domain":[70,120],"nice":false,"zero":false},"axis":{"values":[70,80,90,100,110,120],"title":["Rel. body weight","(% of start)"],"titlePadding":9}},
     "color":{"field":"g","type":"nominal","scale":{"domain":["r","b"],"range":["#ff5656","#0c16c6"]},"legend":null}}}
  ]}
]
}
